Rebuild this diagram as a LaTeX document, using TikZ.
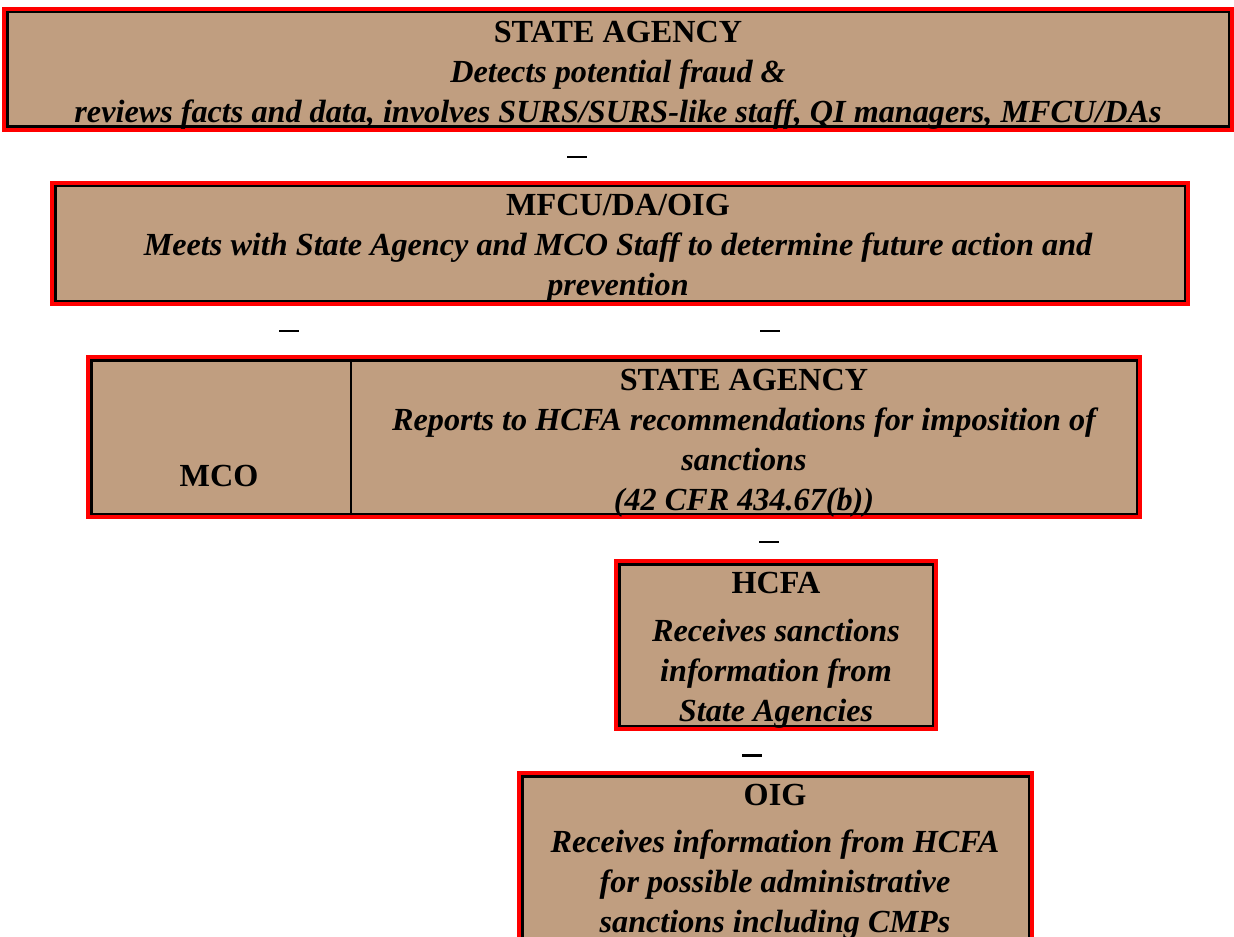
\documentclass[tikz,border=0pt]{standalone}
\usepackage{fontspec}
\setmainfont{Liberation Serif}
\usepackage{xcolor}
\definecolor{Tan}{RGB}{192,158,128}
\definecolor{Rim}{RGB}{255,0,0}
\usepackage{tikz}
\tikzstyle{Outer}=[draw=Rim,line width=2pt,fill=Tan,inner sep=0pt]
\tikzstyle{Frame}=[draw=black,line width=1.25pt,inner sep=0pt]
\tikzstyle{Head}=[inner sep=0pt,anchor=base,
font=\fontsize{16.1}{20}\selectfont\bfseries]
% base of a multi-line body is the baseline of its last line
\tikzstyle{Body}=[inner sep=0pt,anchor=base,align=center,
font=\fontsize{16.1}{20}\selectfont\bfseries\itshape]
\tikzstyle{Tick}=[fill=black,inner sep=0pt,minimum width=10pt,
minimum height=1pt]

\begin{document}
\begin{tikzpicture}[x=0.5pt,y=-0.5pt]
        \clip(0,0)rectangle(1234,936);
        % state agency
        \node[Outer,minimum width=614pt,minimum height=60.5pt](sa)at(618,69.5){};
        \node[Frame,minimum width=610.75pt,minimum height=57.25pt](saIn)at(sa){};
        \node[Head](saHead)at(618,43){STATE AGENCY};
        \node[Body](saBody)at(618,123){Detects potential fraud \&\\
            reviews facts and data, involves SURS/SURS-like staff, QI managers, MFCU/DAs};
        \node[Tick](t1)at(577,157){};
        % mfcu/da/oig
        \node[Outer,minimum width=568pt,minimum height=60.5pt](mfcu)at(620,243.5){};
        \node[Frame,minimum width=564.75pt,minimum height=57.25pt](mfcuIn)at(mfcu){};
        \node[Head](mfcuHead)at(618,215){MFCU/DA/OIG};
        \node[Body](mfcuBody)at(618,295){Meets with State Agency and MCO Staff to determine future action and\\
            prevention};
        \node[Tick](t2)at(289,331){};
        \node[Tick](t3)at(770,331){};
        % mco and state agency
        \node[Outer,minimum width=526pt,minimum height=80pt](row)at(614,437){};
        \node[Frame,minimum width=129.875pt,minimum height=76.75pt](mco)at(221.125,437){};
        \node[Frame,minimum width=392.875pt,minimum height=76.75pt](sa2)at(743.875,437){};
        \node[Head](mcoHead)at(219,486){MCO};
        \node[Head](sa2Head)at(744,390){STATE AGENCY};
        \node[Body](sa2Body)at(744,510){Reports to HCFA recommendations for imposition of\\
            sanctions\\(42 CFR 434.67(b))};
        \node[Tick](t4)at(769,542){};
        % hcfa
        \node[Outer,minimum width=160pt,minimum height=84pt](hcfa)at(776,645){};
        \node[Frame,minimum width=156.75pt,minimum height=80.75pt](hcfaIn)at(hcfa){};
        \node[Head](hcfaHead)at(776,593){HCFA};
        \node[Body](hcfaBody)at(776,721){Receives sanctions\\information from\\State Agencies};
        \node[Tick,minimum height=1.5pt](t5)at(751.5,755){};
        % oig
        \node[Outer,minimum width=256.5pt,minimum height=92.5pt](oig)at(775.5,865.5){};
        \node[Frame,minimum width=253.25pt,minimum height=89.25pt](oigIn)at(oig){};
        \node[Head](oigHead)at(775,805){OIG};
        \node[Body](oigBody)at(775,932){Receives information from HCFA\\
            for possible administrative\\sanctions including CMPs};
    \end{tikzpicture}
\end{document}
